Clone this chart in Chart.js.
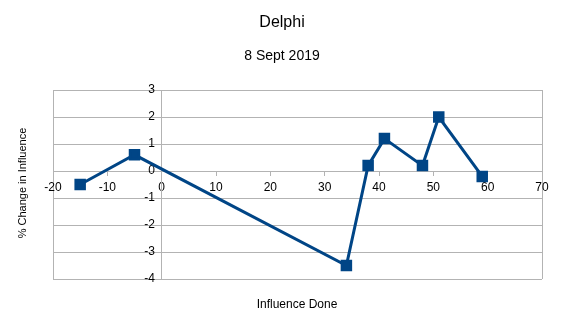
<!DOCTYPE html>
<html lang="en">
<head>
<meta charset="utf-8">
<title>Delphi</title>
<script src="https://cdn.jsdelivr.net/npm/chart.js@4.4.1/dist/chart.umd.min.js"></script>
<style>
  html, body { margin: 0; padding: 0; background: #fff; }
  #wrap { width: 569px; height: 327px; }
</style>
</head>
<body>
<div id="wrap"><canvas id="chart" width="569" height="327"></canvas></div>
<script>
// data
var influenceDone = [-15, -5, 34, 38, 41, 48, 51, 59];
var changePct = [-0.5, 0.6, -3.5, 0.2, 1.2, 0.2, 2.0, -0.2];
var xTicks = [-20, -10, 0, 10, 20, 30, 40, 50, 60, 70];
var yTicks = [-4, -3, -2, -1, 0, 1, 2, 3];

var points = influenceDone.map(function (x, i) { return { x: x, y: changePct[i] }; });

var FONT = "'Liberation Sans', Arial, sans-serif";
var GRID = "#b3b3b3";

// axis titles sit at the page edges, not next to the crossing axes
var axisTitles = {
  id: "axisTitles",
  afterDraw: function (chart) {
    var ctx = chart.ctx;
    ctx.save();
    ctx.fillStyle = "#000";
    ctx.textAlign = "center";
    ctx.textBaseline = "middle";
    ctx.font = "12px " + FONT;
    ctx.fillText("Influence Done", 297, 305);
    ctx.font = "11px " + FONT;
    ctx.translate(23, 183);
    ctx.rotate(-Math.PI / 2);
    ctx.fillText("% Change in Influence", 0, 0);
    ctx.restore();
  }
};

new Chart(document.getElementById("chart"), {
  type: "scatter",
  data: {
    datasets: [{
      data: points,
      showLine: true,
      borderColor: "#004586",
      backgroundColor: "#004586",
      borderWidth: 3,
      pointStyle: "rect",
      pointRadius: 6,
      pointHoverRadius: 6
    }]
  },
  options: {
    responsive: false,
    animation: false,
    layout: { padding: { left: 22, right: 27, bottom: 48, top: 0 } },
    plugins: {
      legend: { display: false },
      tooltip: { enabled: false },
      title: {
        display: true,
        text: "Delphi",
        color: "#000",
        font: { family: FONT, size: 16, weight: "normal" },
        padding: { top: 13, bottom: 16 }
      },
      subtitle: {
        display: true,
        text: "8 Sept 2019",
        color: "#000",
        font: { family: FONT, size: 14, weight: "normal" },
        padding: { top: 0, bottom: 25 }
      }
    },
    scales: {
      x: {
        type: "linear",
        position: { y: 0 },
        min: xTicks[0],
        max: xTicks[xTicks.length - 1],
        afterBuildTicks: function (s) { s.ticks = xTicks.map(function (v) { return { value: v }; }); },
        border: { color: GRID, width: 1 },
        grid: {
          color: function (c) {
            var v = c.tick && c.tick.value;
            return (v === xTicks[0] || v === xTicks[xTicks.length - 1] || v === 0) ? GRID : "rgba(0,0,0,0)";
          },
          tickColor: GRID,
          tickLength: 4
        },
        ticks: { color: "#000", font: { family: FONT, size: 12 }, padding: 5, maxRotation: 0 }
      },
      y: {
        type: "linear",
        position: { x: 0 },
        min: yTicks[0],
        max: yTicks[yTicks.length - 1],
        afterBuildTicks: function (s) { s.ticks = yTicks.map(function (v) { return { value: v }; }); },
        border: { color: GRID, width: 1 },
        grid: { color: GRID, tickColor: GRID, tickLength: 4 },
        // padding is ignored for an axis placed at a value, so pad with spaces
        ticks: {
          color: "#000",
          font: { family: FONT, size: 12 },
          callback: function (v) { return v + "  "; }
        }
      },
      // empty left gutter so the titles stay centred on the page
      gutter: {
        type: "linear",
        axis: "y",
        position: "left",
        ticks: { display: false },
        grid: { display: false },
        border: { display: false },
        afterFit: function (s) { s.width = 31; }
      }
    }
  },
  plugins: [axisTitles]
});
</script>
</body>
</html>
